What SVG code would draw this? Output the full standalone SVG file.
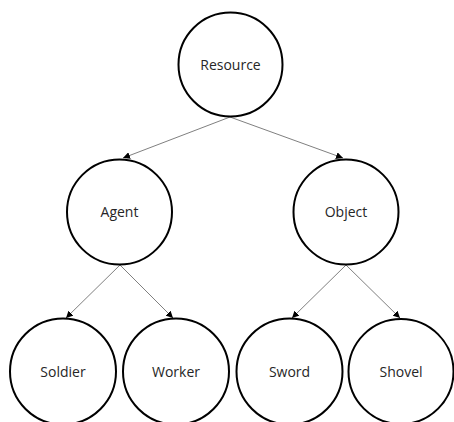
<svg xmlns="http://www.w3.org/2000/svg" width="454" height="422" viewBox="0 0 454 422">
<style>
.node circle{fill:#fff;stroke:#000;stroke-width:2}
.node text{font-family:"Open Sans","Noto Sans",sans-serif;font-size:14px;fill:#262626;text-anchor:middle}
.edge{stroke:#808080;stroke-width:1;fill:none;marker-end:url(#ah)}
</style>
<defs>
<marker id="ah" viewBox="0 0 10 10" refX="10" refY="5" markerWidth="7" markerHeight="7" markerUnits="userSpaceOnUse" orient="auto">
<path d="M0,0 L10,5 L0,10 z" fill="#000"/>
</marker>
</defs>
<rect width="454" height="422" fill="#fff"/>
<g id="connectors">
<line class="edge" x1="230" y1="117" x2="123" y2="158"/>
<line class="edge" x1="230" y1="117" x2="343" y2="158"/>
<line class="edge" x1="120" y1="265" x2="66" y2="318"/>
<line class="edge" x1="120" y1="265" x2="173" y2="318"/>
<line class="edge" x1="346" y1="265" x2="292" y2="318"/>
<line class="edge" x1="346" y1="265" x2="400" y2="318"/>
</g>
<g id="resource" class="node"><circle cx="230.5" cy="64.5" r="52"/><text x="230.5" y="69.5">Resource</text></g>
<g id="agent" class="node"><circle cx="119.5" cy="212" r="52.5"/><text x="119.5" y="217">Agent</text></g>
<g id="object" class="node"><circle cx="346" cy="212" r="52.5"/><text x="346" y="217">Object</text></g>
<g id="soldier" class="node"><circle cx="63" cy="371.5" r="53"/><text x="63" y="376.5">Soldier</text></g>
<g id="worker" class="node"><circle cx="176" cy="371.5" r="53"/><text x="176" y="376.5">Worker</text></g>
<g id="sword" class="node"><circle cx="289.5" cy="371.5" r="53"/><text x="289.5" y="376.5">Sword</text></g>
<g id="shovel" class="node"><circle cx="401" cy="371.5" r="52.5"/><text x="401" y="376.5">Shovel</text></g>
</svg>
